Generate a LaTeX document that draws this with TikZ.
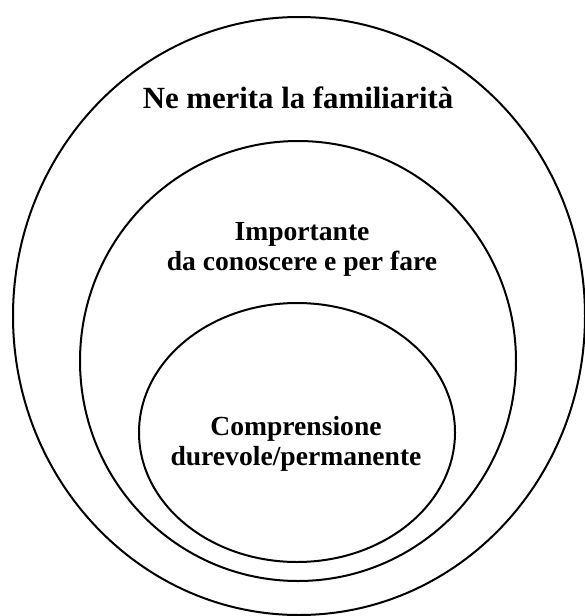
\documentclass[tikz,border=0pt]{standalone}
\usepackage{fontspec}
\setmainfont{Liberation Serif}
\usetikzlibrary{shapes.geometric}
\tikzset{
  ring/.style={draw=black, line width=2pt, ellipse, inner sep=0pt, outer sep=0pt},
  lbl/.style={font=\bfseries\fontsize{27.6}{30}\selectfont, align=center, inner sep=0pt, anchor=base},
  title/.style={font=\bfseries\fontsize{30.8}{33}\selectfont, inner sep=0pt, anchor=base}
}
\begin{document}
\begin{tikzpicture}[x=1pt,y=-1pt]
\useasboundingbox (0,0) rectangle (584,616);
\node[ring, minimum width=572pt, minimum height=598pt] (outer) at (299,316) {};
\node[ring, minimum width=436pt, minimum height=440pt] (middle) at (298,361) {};
\node[ring, minimum width=316pt, minimum height=259pt] (inner) at (297,432.5) {};
\node[title] (t1) at (298,108) {Ne merita la familiarità};
\node[lbl] (t2) at (302,270) {Importante\\da conoscere e per fare};
\node[lbl] (t3) at (296,465) {Comprensione\\durevole/permanente};
\end{tikzpicture}
\end{document}
